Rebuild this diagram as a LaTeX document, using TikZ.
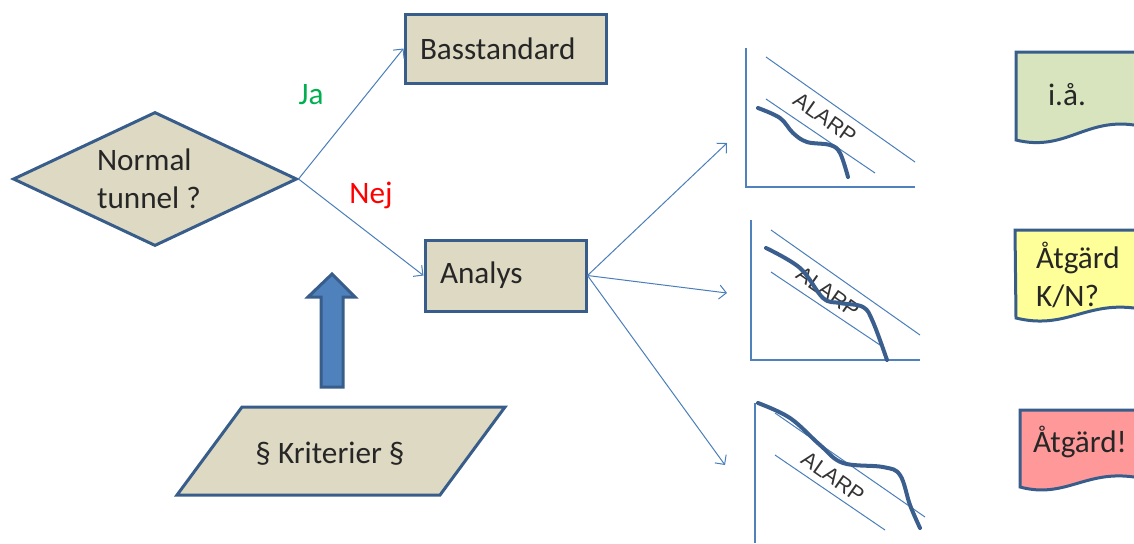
\documentclass[tikz,border=0pt]{standalone}
\usepackage{fontspec}
\setmainfont{Carlito}
\newfontfamily\alarpfont{Liberation Sans}
\usetikzlibrary{shapes.geometric,arrows.meta}
\definecolor{boxline}{HTML}{385D8A}
\definecolor{boxfill}{HTML}{DDD9C3}
\definecolor{linkblue}{HTML}{4A7EBB}
\definecolor{arrowfill}{HTML}{4F81BD}
\definecolor{jagreen}{HTML}{00B050}
\definecolor{docgreen}{HTML}{D7E4BD}
\definecolor{docyellow}{HTML}{FFFF99}
\definecolor{docred}{HTML}{FF9999}
\definecolor{curveblue}{HTML}{3A5F8E}
\tikzset{
  txt/.style={font=\fontsize{15.6}{19}\selectfont, text=black!85},
  box/.style={txt, draw=boxline, fill=boxfill, line width=1.5pt, inner xsep=7.5pt, align=left},
  decision/.style={diamond, draw=boxline, fill=boxfill, line width=1.5pt, inner sep=0pt, minimum width=142pt, minimum height=67pt},
  link/.style={draw=linkblue, line width=0.5pt, -{Straight Barb[length=3.5pt,width=7pt]}},
  guide/.style={draw=linkblue, line width=0.5pt},
  axis/.style={draw=arrowfill, line width=0.8pt},
  curve/.style={draw=curveblue, line width=2pt, line cap=round},
  alarp/.style={font=\alarpfont\fontsize{10.8}{13}\selectfont, text=black!80, rotate=-35},
  doc/.style={draw=boxline, line width=1.5pt},
}
\begin{document}
\begin{tikzpicture}[x=0.5pt, y=-0.5pt]
        \useasboundingbox (0,0) rectangle (1134,543);
        \node[decision](normal) at (155,179) {};
        \node[txt, align=left](normaltext) at (149,179) {Normal\\tunnel ?};
        \node[box, text width=85.5pt, minimum height=34.5pt](bas) at (505.5,48.5) {Basstandard};
        \node[box, text width=65.5pt, minimum height=35.5pt](analys) at (505.5,275.5) {Analys};
        \draw[boxline, fill=boxfill, line width=1.5pt] (242,407) -- (505,407) -- (440,495) -- (177,495) -- cycle;
        \node[txt](krit) at (330,454) {\S{} Kriterier \S};
        \draw[boxline, fill=arrowfill, line width=1.5pt] (321,387) -- (321,297) -- (308,297) -- (332,274) -- (355,297) -- (343,297) -- (343,387) -- cycle;
        \node[txt, text=jagreen](ja) at (311,95) {Ja};
        \node[txt, text=red](nej) at (371,195) {Nej};
        \draw[link] (normal.east) -- (bas.west);
        \draw[link] (normal.east) -- (analys.west);
        \coordinate(g1) at (727,143);
        \coordinate(g2) at (727,293);
        \coordinate(g3) at (725,465);
        \draw[link] (analys.east) -- (g1);
        \draw[link] (analys.east) -- (g2);
        \draw[link] (analys.east) -- (g3);
        % first graph
        \draw[axis] (746,48) -- (746,187) -- (915,187);
        \draw[guide] (766,57) -- (915,162);
        \draw[guide] (766,99) -- (875,173);
        \node[alarp](a1) at (825,118) {ALARP};
        \draw[curve] plot[smooth, tension=0.6] coordinates {(758,108) (780,118) (793,133) (807,142) (830,145) (840,153) (848,177)};
        % second graph
        \draw[axis] (751,220) -- (751,360) -- (920,360);
        \draw[guide] (771,230) -- (920,335);
        \draw[guide] (771,272) -- (880,345);
        \node[alarp](a2) at (828,292) {ALARP};
        \draw[curve] plot[smooth, tension=0.6] coordinates {(766,248) (800,268) (823,298) (840,303) (863,307) (873,322) (887,360)};
        % third graph
        \draw[axis] (755,403) -- (755,543);
        \draw[guide] (775,413) -- (925,517);
        \draw[guide] (775,455) -- (885,530);
        \node[alarp](a3) at (833,477) {ALARP};
        \draw[curve] plot[smooth, tension=0.6] coordinates {(758,403) (790,418) (820,445) (843,463) (883,467) (900,475) (910,505) (920,528)};
        % documents
        \draw[doc, fill=docgreen] (1016,52) -- (1145,52) -- (1145,125) -- (1134,125) .. controls (1085,118) and (1065,152) .. (1016,140) -- cycle;
        \node[txt](ia) at (1067,95) {i.å.};
        \draw[doc, fill=docyellow] (1015,230) -- (1145,230) -- (1145,308) -- (1134,308) .. controls (1085,302) and (1065,330) .. (1016,318) -- cycle;
        \node[txt, align=left, anchor=west](kn) at (1029,275) {Åtgärd\\K/N?};
        \draw[doc, fill=docred] (1020,410) -- (1145,410) -- (1145,477) -- (1134,477) .. controls (1085,470) and (1065,499) .. (1020,487) -- cycle;
        \node[txt, anchor=west](atg) at (1026,442) {Åtgärd!};
\end{tikzpicture}
\end{document}
